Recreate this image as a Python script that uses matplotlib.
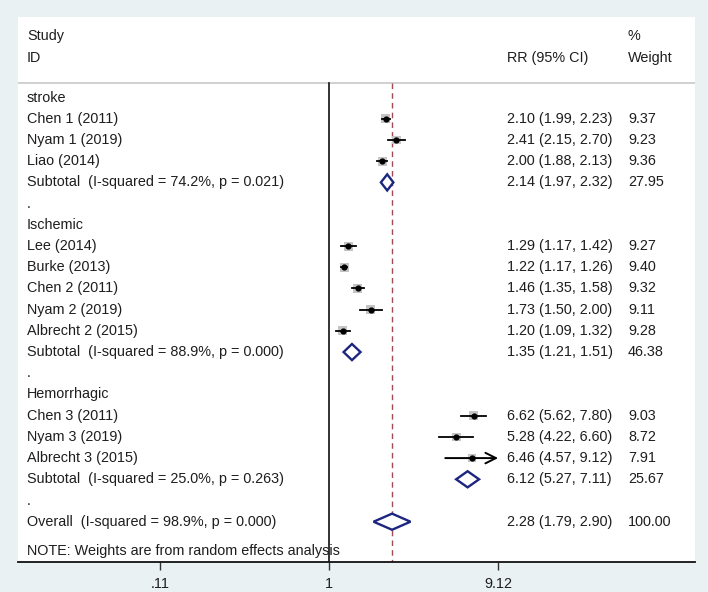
import numpy as np
import matplotlib
matplotlib.use('Agg')
from matplotlib import pyplot as plt
import matplotlib.patches as patches

plt.rcParams['font.family'] = ['Liberation Sans', 'DejaVu Sans']

# rows of the forest plot, top to bottom
labels = ['stroke', 'Chen 1 (2011)', 'Nyam 1 (2019)', 'Liao (2014)',
          'Subtotal  (I-squared = 74.2%, p = 0.021)', '.',
          'Ischemic', 'Lee (2014)', 'Burke (2013)', 'Chen 2 (2011)',
          'Nyam 2 (2019)', 'Albrecht 2 (2015)',
          'Subtotal  (I-squared = 88.9%, p = 0.000)', '.',
          'Hemorrhagic', 'Chen 3 (2011)', 'Nyam 3 (2019)', 'Albrecht 3 (2015)',
          'Subtotal  (I-squared = 25.0%, p = 0.263)', '.',
          'Overall  (I-squared = 98.9%, p = 0.000)']
kinds = ['head', 'study', 'study', 'study', 'sub', 'blank',
         'head', 'study', 'study', 'study', 'study', 'study', 'sub', 'blank',
         'head', 'study', 'study', 'study', 'sub', 'blank', 'sub']
rr = [None, 2.10, 2.41, 2.00, 2.14, None,
      None, 1.29, 1.22, 1.46, 1.73, 1.20, 1.35, None,
      None, 6.62, 5.28, 6.46, 6.12, None, 2.28]
lo = [None, 1.99, 2.15, 1.88, 1.97, None,
      None, 1.17, 1.17, 1.35, 1.50, 1.09, 1.21, None,
      None, 5.62, 4.22, 4.57, 5.27, None, 1.79]
hi = [None, 2.23, 2.70, 2.13, 2.32, None,
      None, 1.42, 1.26, 1.58, 2.00, 1.32, 1.51, None,
      None, 7.80, 6.60, 9.12, 7.11, None, 2.90]
weight = [None, '9.37', '9.23', '9.36', '27.95', None,
          None, '9.27', '9.40', '9.32', '9.11', '9.28', '46.38', None,
          None, '9.03', '8.72', '7.91', '25.67', None, '100.00']
overall_rr = 2.28
xticks = [0.11, 1, 9.12]
xtick_labels = ['.11', '1', '9.12']

txt = '#1e1e1e'
navy = '#1c2580'
fs = 10.4

fig = plt.figure(figsize=(7.08, 5.92), dpi=100)
fig.patch.set_facecolor('#eaf1f3')
W, H = 708, 592

ax = fig.add_axes([18 / W, 30 / H, 677 / W, 545 / H])
ax.set_facecolor('white')
ax.set_xscale('log')
k = (497 - 159) / np.log(xticks[2] / xticks[0])
ax.set_xlim(np.exp(-311 / k), np.exp(366 / k))
ax.set_ylim(21.9, -3.8)

for s in ['top', 'right', 'left']:
    ax.spines[s].set_visible(False)
ax.spines['bottom'].set_linewidth(1.3)
ax.spines['bottom'].set_color('#111111')
ax.set_yticks([])
ax.set_xticks(xticks)
ax.set_xticklabels(xtick_labels, fontsize=fs, color=txt)
ax.xaxis.set_minor_locator(matplotlib.ticker.NullLocator())
ax.tick_params(axis='x', direction='out', length=6, width=1, color='#333333', pad=5)

tr = ax.get_yaxis_transform()
xl, xr, xw = 0.0133, 0.7223, 0.901

# header
ax.text(xl, -2.92, 'Study', transform=tr, fontsize=fs, color=txt, va='center')
ax.text(xl, -1.89, 'ID', transform=tr, fontsize=fs, color=txt, va='center')
ax.text(xw, -2.92, '%', transform=tr, fontsize=fs, color=txt, va='center')
ax.text(xr, -1.89, 'RR (95% CI)', transform=tr, fontsize=fs, color=txt, va='center')
ax.text(xw, -1.89, 'Weight', transform=tr, fontsize=fs, color=txt, va='center')
ax.axhline(-0.71, color='#c8c8c8', lw=1.2)

# no-effect line and overall estimate line
ax.plot([1, 1], [-0.71, 21.9], color='#111111', lw=1.2, zorder=2)
ax.plot([overall_rr, overall_rr], [-0.71, 21.9], color='#a24a55', lw=1,
        dashes=(4, 3), zorder=2)

for i, lab in enumerate(labels):
    ax.text(xl, i, lab, transform=tr, fontsize=fs, color=txt, va='center')
    if rr[i] is None:
        continue
    ax.text(xr, i, '%.2f (%.2f, %.2f)' % (rr[i], lo[i], hi[i]), transform=tr,
            fontsize=fs, color=txt, va='center')
    ax.text(xw, i, weight[i], transform=tr, fontsize=fs, color=txt, va='center')
    if kinds[i] == 'study':
        ax.scatter([rr[i]], [i], marker='s', s=float(weight[i]) * 4.5,
                   color='#c4c4c4', edgecolors='none', zorder=3)
        if hi[i] >= xticks[-1]:
            # CI reaches the axis limit -> arrow
            ax.annotate('', xy=(hi[i], i), xytext=(lo[i], i),
                        arrowprops=dict(arrowstyle='->', color='black', lw=1.4,
                                        mutation_scale=19, shrinkA=0, shrinkB=0),
                        zorder=4)
        else:
            ax.plot([lo[i], hi[i]], [i, i], color='black', lw=1.3, zorder=4)
        ax.scatter([rr[i]], [i], marker='o', s=12, color='black', zorder=5)
    elif kinds[i] == 'sub':
        dia = patches.Polygon([(lo[i], i), (rr[i], i - 0.38), (hi[i], i),
                               (rr[i], i + 0.38)], closed=True,
                              facecolor='white', edgecolor=navy, lw=1.7, zorder=4)
        ax.add_patch(dia)

ax.text(xl, 21.37, 'NOTE: Weights are from random effects analysis', transform=tr,
        fontsize=fs, color=txt, va='center')

fig.savefig('out.png', dpi=100, facecolor=fig.get_facecolor())
